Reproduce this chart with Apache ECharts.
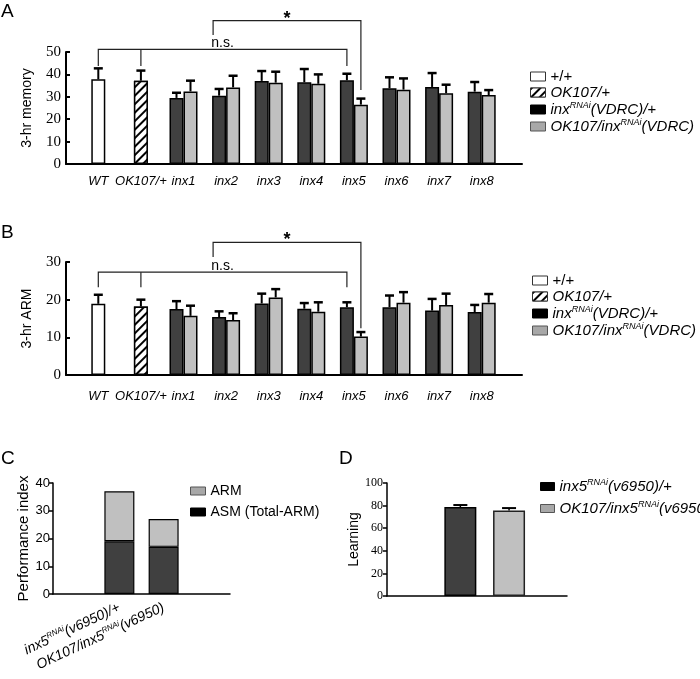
<!DOCTYPE html>
<html><head><meta charset="utf-8">
<script src="https://cdn.jsdelivr.net/npm/echarts@6/dist/echarts.min.js"></script>
<style>html,body{margin:0;padding:0;background:#fff}#c{width:700px;height:679px}</style>
</head><body><div id="c"></div><script>
// ---------- data ----------
const groups = ['WT','OK107/+','inx1','inx2','inx3','inx4','inx5','inx6','inx7','inx8'];
const ctrlGroups = ['WT','OK107/+'];
const inxGroups = ['inx1','inx2','inx3','inx4','inx5','inx6','inx7','inx8'];
const ctrlNames = ['+/+','OK107/+'];
const vdrcNames = ['inxRNAi(VDRC)/+','OK107/inxRNAi(VDRC)'];

// Panel A: 3-hr memory
const aCtrl = [37.8, 37.2];
const aCtrlErr = [4.9, 4.5];
const aDark = [29.5, 30.5, 37.1, 36.5, 37.4, 33.8, 34.4, 32.3];
const aDarkErr = [2.3, 3.0, 4.4, 5.9, 2.9, 4.9, 6.2, 4.3];
const aLight = [32.4, 34.2, 36.3, 35.8, 26.5, 33.2, 31.6, 30.8];
const aLightErr = [4.8, 5.2, 4.9, 4.2, 2.7, 5.0, 3.8, 2.2];
const aBracket = [51.2, 43.8, 64, 57.6, 33]; // n.s. line, n.s. ends, * line, * left end, * right end

// Panel B: 3-hr ARM
const bCtrl = [18.9, 18.2];
const bCtrlErr = [2.4, 1.8];
const bDark = [17.5, 15.4, 19.0, 17.6, 18.0, 18.0, 17.1, 16.7];
const bDarkErr = [2.1, 1.5, 2.6, 1.5, 1.3, 3.1, 3.1, 1.9];
const bLight = [15.7, 14.6, 20.6, 16.8, 10.2, 19.2, 18.6, 19.2];
const bLightErr = [2.7, 1.8, 2.2, 2.5, 1.2, 2.8, 3.0, 2.3];
const bBracket = [27.3, 23.3, 35.2, 31.3, 12.4];

// Panel C
const cCats = ['inx5RNAi(v6950)/+','OK107/inx5RNAi(v6950)'];
const cNames = ['ARM','ASM (Total-ARM)'];
const cASM = [19, 17];
const cARM = [18, 10];

// Panel D
const dNames = ['inx5RNAi(v6950)/+','OK107/inx5RNAi(v6950)'];
const dVals = [78.7, 75.7];
const dErr = [1.8, 2.1];

// ---------- helpers ----------
const F = 'Liberation Sans', SF = 'Liberation Serif';
const DARK = '#404040', LIGHT = '#c0c0c0';

function richFor(size){
  return {
    n:{fontSize:size, fontFamily:F, color:'#000', lineHeight:size+2},
    i:{fontSize:size, fontFamily:F, fontStyle:'italic', color:'#000', lineHeight:size+2},
    s:{fontSize:Math.round(size*0.6), fontFamily:F, fontStyle:'italic', color:'#000', lineHeight:Math.round(size*0.6), verticalAlign:'top'}
  };
}
function richLabel(name, italic){
  const st = italic ? 'i' : 'n';
  const parts = name.split('RNAi');
  if (parts.length === 1) return '{'+st+'|'+name+'}';
  return '{'+st+'|'+parts[0]+'}{s|RNAi}{'+st+'|'+parts[1]+'}';
}

function lineX(grid, lw){
  return {type:'value', gridIndex:grid, min:0, max:1,
    axisLine:{show:true, onZero:false, lineStyle:{color:'#000', width:lw}},
    axisTick:{show:false}, axisLabel:{show:false}, splitLine:{show:false}};
}
function yVis(grid, max, interval, name, o){
  return {type:'value', gridIndex:grid, min:0, max, interval, name,
    nameLocation:'middle', nameGap:o.gap,
    nameTextStyle:{fontFamily:F, fontSize:o.nameSize, color:'#000'},
    axisLine:{show:true, onZero:false, lineStyle:{color:'#000', width:o.lw}},
    axisTick:{show:true, inside:o.inside, length:4, lineStyle:{color:'#000', width:o.lw}},
    axisLabel:{fontFamily:o.ff, fontSize:o.fs, color:'#000', margin:o.margin},
    splitLine:{show:false}};
}
function yHid(grid, max){
  return {type:'value', gridIndex:grid, min:0, max, show:false, splitLine:{show:false}};
}
function catAxis(grid, data, show, labelOpts){
  return {type:'category', gridIndex:grid, data, show:show,
    axisLine:{show:false}, axisTick:{show:false},
    axisLabel:Object.assign({interval:0}, labelOpts||{})};
}
function padTo(vals, startIdx, total){
  const out = new Array(total).fill('-');
  vals.forEach((v,k)=>{ out[startIdx+k] = v; });
  return out;
}
function errSeries(xi, yi, catIdx, vals, errs, offset, capW, lw){
  return {type:'custom', xAxisIndex:xi, yAxisIndex:yi, silent:true, z:5, clip:false,
    data: vals.map((v,k)=>[catIdx[k], v, errs[k]]),
    encode:{x:0, y:1},
    renderItem:(p, api)=>{
      const c0 = api.coord([api.value(0), api.value(1)]);
      const c1 = api.coord([api.value(0), api.value(1)+api.value(2)]);
      const x = c0[0] + offset;
      return {type:'group', children:[
        {type:'line', shape:{x1:x, y1:c0[1], x2:x, y2:c1[1]}, style:{stroke:'#000', lineWidth:lw}},
        {type:'line', shape:{x1:x-capW/2, y1:c1[1], x2:x+capW/2, y2:c1[1]}, style:{stroke:'#000', lineWidth:lw+0.5}}
      ]};
    }};
}
function bracketSeries(xi, yi, br){
  return {type:'custom', xAxisIndex:xi, yAxisIndex:yi, silent:true, z:6, clip:false,
    data:[[0,0]],
    renderItem:(p, api)=>{
      const X = (g, off)=>api.coord([groups.indexOf(g), 0])[0] + off;
      const Y = v=>api.coord([0, v])[1];
      const wt = X('WT',0), ok = X('OK107/+',0), i5d = X('inx5',-7);
      const sL = X('inx2',-13), sR = X('inx5',7);
      const st = {stroke:'#222', fill:null, lineWidth:1.2};
      return {type:'group', children:[
        {type:'polyline', shape:{points:[[wt,Y(br[1])],[wt,Y(br[0])],[i5d,Y(br[0])],[i5d,Y(br[1])]]}, style:st},
        {type:'line', shape:{x1:ok, y1:Y(br[0]), x2:ok, y2:Y(br[1])}, style:st},
        {type:'polyline', shape:{points:[[sL,Y(br[3])],[sL,Y(br[2])],[sR,Y(br[2])],[sR,Y(br[4])]]}, style:st},
        {type:'text', style:{text:'n.s.', x:(wt+i5d)/2, y:Y(br[0])+1, align:'center', verticalAlign:'bottom', fontSize:14, fontFamily:F, fill:'#000'}},
        {type:'text', style:{text:'*', x:(sL+sR)/2, y:Y(br[2])-2, align:'center', verticalAlign:'middle', fontSize:18, fontWeight:'bold', fontFamily:F, fill:'#000'}}
      ]};
    }};
}
const hatch = {symbol:'rect', symbolSize:1, dashArrayX:[1,0], dashArrayY:[1.6,3.4], rotation:-Math.PI/4, color:'#000', backgroundColor:'#fff'};
const barBorder = {borderColor:'#000', borderWidth:1.5};

function panelSeries(xCat, xCtrl, yi, ctrl, ctrlErr, dark, darkErr, light, lightErr, br){
  const n = groups.length;
  const ctrlIdx = ctrlGroups.map(g=>groups.indexOf(g));
  const inxIdx = inxGroups.map(g=>groups.indexOf(g));
  return [
    {type:'bar', name:ctrlNames[0], xAxisIndex:xCtrl, yAxisIndex:yi, stack:'ctrl'+yi, barWidth:14,
      data:padTo([ctrl[0]], ctrlIdx[0], n), itemStyle:Object.assign({color:'#fff'}, barBorder)},
    {type:'bar', name:ctrlNames[1], xAxisIndex:xCtrl, yAxisIndex:yi, stack:'ctrl'+yi, barWidth:14,
      data:padTo([ctrl[1]], ctrlIdx[1], n), itemStyle:Object.assign({color:'#fff', decal:hatch}, barBorder)},
    {type:'bar', name:vdrcNames[0], xAxisIndex:xCat, yAxisIndex:yi, barWidth:14, barGap:'0%',
      data:padTo(dark, inxIdx[0], n), itemStyle:Object.assign({color:DARK}, barBorder)},
    {type:'bar', name:vdrcNames[1], xAxisIndex:xCat, yAxisIndex:yi, barWidth:14, barGap:'0%',
      data:padTo(light, inxIdx[0], n), itemStyle:Object.assign({color:LIGHT}, barBorder)},
    errSeries(xCat, yi, ctrlIdx, ctrl, ctrlErr, 0, 9, 2),
    errSeries(xCat, yi, inxIdx, dark, darkErr, -7, 9, 2),
    errSeries(xCat, yi, inxIdx, light, lightErr, 7, 9, 2),
    bracketSeries(xCat, yi, br)
  ];
}
function legendFor(left, top, names, items, size, gap, iw, ih, italicFn){
  return {orient:'vertical', left, top, itemWidth:iw, itemHeight:ih, itemGap:gap, icon:'rect',
    selectedMode:false,
    data: names.map((nm,k)=>Object.assign({name:nm}, items[k])),
    formatter: nm=>richLabel(nm, italicFn(nm)),
    textStyle:{fontSize:size, fontFamily:F, color:'#000', rich:richFor(size)}};
}
const catLabel = {fontFamily:F, fontSize:13, fontStyle:'italic', color:'#000'};
const abLegendItems = [
  {itemStyle:{color:'#fff', borderColor:'#333', borderWidth:1}},
  {itemStyle:{color:'#fff', borderColor:'#333', borderWidth:1, decal:hatch}},
  {itemStyle:{color:'#000', borderColor:'#000', borderWidth:1}},
  {itemStyle:{color:'#a8a8a8', borderColor:'#555', borderWidth:1}}
];

const option = {
  animation:false,
  backgroundColor:'#fff',
  grid:[
    {left:66, top:52, width:456, height:112},   // 0 A axes
    {left:77, top:52, width:426, height:112},   // 1 A data
    {left:66, top:262, width:456, height:113},  // 2 B axes
    {left:77, top:262, width:426, height:113},  // 3 B data
    {left:53, top:483, width:177, height:111},  // 4 C
    {left:387, top:483, width:180, height:113}, // 5 D axes
    {left:436, top:483, width:97.4, height:113} // 6 D data
  ],
  xAxis:[
    lineX(0, 2),
    catAxis(1, groups, true, Object.assign({margin:11}, catLabel)),
    catAxis(1, groups, false),
    lineX(2, 2),
    catAxis(3, groups, true, Object.assign({margin:15}, catLabel)),
    catAxis(3, groups, false),
    {type:'category', gridIndex:4, data:[''].concat(cCats, ['']),
      axisLine:{show:true, lineStyle:{color:'#000', width:1.5}}, axisTick:{show:false},
      axisLabel:{interval:0, rotate:25, margin:13, formatter:v=>v?richLabel(v,true):'', rich:richFor(14)}},
    lineX(5, 1.5),
    catAxis(6, dNames, false)
  ],
  yAxis:[
    yVis(0, 50, 10, '3-hr memory', {gap:32, nameSize:14, lw:2, ff:SF, fs:15, margin:5, inside:true}),
    yHid(1, 50),
    yVis(2, 30, 10, '3-hr ARM', {gap:32, nameSize:14, lw:2, ff:SF, fs:15, margin:5, inside:true}),
    yHid(3, 30),
    yVis(4, 40, 10, 'Performance index', {gap:20, nameSize:15, lw:1.5, ff:F, fs:13, margin:3, inside:false}),
    yVis(5, 100, 20, 'Learning', {gap:22, nameSize:14, lw:1.5, ff:SF, fs:12, margin:4, inside:false}),
    yHid(6, 100)
  ],
  legend:[
    legendFor(525, 64, ctrlNames.concat(vdrcNames), abLegendItems, 15, 1, 15, 9, nm=>nm!=='+/+'),
    legendFor(527, 268, ctrlNames.concat(vdrcNames), abLegendItems, 15, 1, 15, 9, nm=>nm!=='+/+'),
    legendFor(185, 479, cNames,
      [{itemStyle:{color:'#a8a8a8', borderColor:'#555', borderWidth:1}},
       {itemStyle:{color:'#000', borderColor:'#000', borderWidth:1}}],
      14, 7, 15, 8, nm=>false),
    legendFor(535, 473, dNames,
      [{itemStyle:{color:'#000', borderColor:'#000', borderWidth:1}},
       {itemStyle:{color:'#a8a8a8', borderColor:'#555', borderWidth:1}}],
      15, 6, 14, 8, nm=>true)
  ],
  graphic:[
    {type:'text', left:1, top:2, style:{text:'A', fontSize:19, fontFamily:F, fill:'#000'}},
    {type:'text', left:1, top:223, style:{text:'B', fontSize:19, fontFamily:F, fill:'#000'}},
    {type:'text', left:1, top:449, style:{text:'C', fontSize:19, fontFamily:F, fill:'#000'}},
    {type:'text', left:339, top:449, style:{text:'D', fontSize:19, fontFamily:F, fill:'#000'}}
  ],
  series: [].concat(
    panelSeries(1, 2, 1, aCtrl, aCtrlErr, aDark, aDarkErr, aLight, aLightErr, aBracket),
    panelSeries(4, 5, 3, bCtrl, bCtrlErr, bDark, bDarkErr, bLight, bLightErr, bBracket),
    [
      {type:'bar', name:cNames[1], xAxisIndex:6, yAxisIndex:4, stack:'c', barWidth:30,
        data:['-'].concat(cASM, ['-']), itemStyle:{color:DARK, borderColor:'#000', borderWidth:1.2}},
      {type:'bar', name:cNames[0], xAxisIndex:6, yAxisIndex:4, stack:'c', barWidth:30,
        data:['-'].concat(cARM, ['-']), itemStyle:{color:LIGHT, borderColor:'#000', borderWidth:1.2}},
      {type:'bar', name:dNames[0], xAxisIndex:8, yAxisIndex:6, stack:'d', barWidth:32,
        data:[dVals[0], '-'], itemStyle:{color:DARK, borderColor:'#000', borderWidth:1.5}},
      {type:'bar', name:dNames[1], xAxisIndex:8, yAxisIndex:6, stack:'d', barWidth:32,
        data:['-', dVals[1]], itemStyle:{color:LIGHT, borderColor:'#222', borderWidth:1.5}},
      errSeries(8, 6, [0,1], dVals, dErr, 0, 14, 1.5)
    ]
  )
};
const chart = echarts.init(document.getElementById('c'), null, {renderer:'canvas'});
chart.setOption(option);
</script></body></html>
